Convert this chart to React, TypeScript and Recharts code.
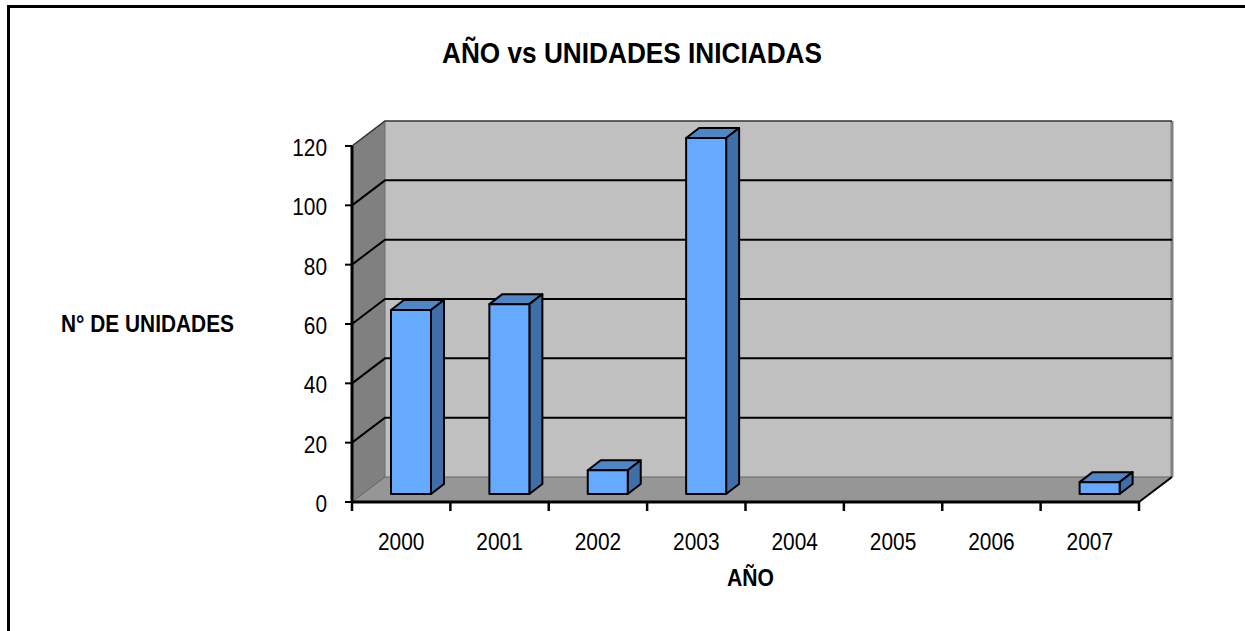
import React from "react";
import { BarChart, Bar, XAxis, YAxis, ReferenceArea, ReferenceLine } from "recharts";

const years = ["2000", "2001", "2002", "2003", "2004", "2005", "2006", "2007"];
const units = [62, 64, 8, 120, 0, 0, 0, 4];
const yTicks = [0, 20, 40, 60, 80, 100, 120];
const gridValues = [20, 40, 60, 80, 100];

const data = years.map((year, i) => ({ year, units: units[i] }));

const W = 1245;
const H = 631;
const DX = 33;
const DY = -25;
const BAR_SHIFT_X = 10;
const BAR_SHIFT_Y = -8;
const BAR_DX = 13;
const BAR_DY = -10;
const FONT = "'Liberation Sans', Arial, sans-serif";

function Walls(props: any) {
  const { x, y, width, height } = props;
  const b = y + height;
  const r = x + width;
  const top = y + DY;
  return (
    <g>
      <polygon points={`${x + DX},${top} ${r + DX},${top} ${r + DX},${b + DY} ${x + DX},${b + DY}`} fill="#c0c0c0" />
      <path d={`M${r + DX},${top} L${r + DX},${b + DY}`} stroke="#808080" strokeWidth={3} fill="none" />
      <polygon points={`${x},${y} ${x + DX},${top} ${x + DX},${b + DY} ${x},${b}`} fill="#808080" stroke="#6e6e6e" strokeWidth={1} />
      <polygon points={`${x},${b} ${x + DX},${b + DY} ${r + DX},${b + DY} ${r},${b}`} fill="#969696" stroke="#666" strokeWidth={1} />
      <path d={`M${x},${y} L${x + DX},${top} L${r + DX},${top}`} fill="none" stroke="#333" strokeWidth={1.5} />
      <path d={`M${r},${b} L${r + DX},${b + DY}`} fill="none" stroke="#000" strokeWidth={2} />
    </g>
  );
}

function GridLine3D(props: any) {
  const { x1, y1, x2, y2 } = props;
  const xa = Math.min(x1, x2);
  const xb = Math.max(x1, x2);
  return (
    <path d={`M${xa},${y1} L${xa + DX},${y1 + DY} L${xb + DX},${y2 + DY}`} fill="none" stroke="#000" strokeWidth={2} />
  );
}

function Box3D(props: any) {
  const { x, y, width, height } = props;
  if (!height || height <= 0) return null;
  const l = x + BAR_SHIFT_X;
  const t = y + BAR_SHIFT_Y;
  const r = l + width;
  const b = t + height;
  return (
    <g stroke="#000" strokeWidth={2} strokeLinejoin="round">
      <polygon points={`${l},${t} ${l + BAR_DX},${t + BAR_DY} ${r + BAR_DX},${t + BAR_DY} ${r},${t}`} fill="#4f86c6" />
      <polygon points={`${r},${t} ${r + BAR_DX},${t + BAR_DY} ${r + BAR_DX},${b + BAR_DY} ${r},${b}`} fill="#3f6ea8" />
      <rect x={l} y={t} width={width} height={height} fill="#66aaff" />
    </g>
  );
}

function YTick(props: any) {
  const { x, y, payload } = props;
  const s = String(payload.value);
  return (
    <text x={x - 16} y={y + 10} textAnchor="end" fontFamily={FONT} fontSize={23} fill="#000" textLength={s.length * 11.6} lengthAdjust="spacingAndGlyphs">
      {s}
    </text>
  );
}

function XTick(props: any) {
  const { x, payload, index, axisTop, band } = props;
  const s = String(payload.value);
  const last = index === years.length - 1;
  return (
    <g>
      <line x1={x - band / 2} x2={x - band / 2} y1={axisTop} y2={axisTop + 9} stroke="#000" strokeWidth={2.5} />
      {last && <line x1={x + band / 2} x2={x + band / 2} y1={axisTop} y2={axisTop + 9} stroke="#000" strokeWidth={2.5} />}
      <text x={x} y={axisTop + 48} textAnchor="middle" fontFamily={FONT} fontSize={23} fill="#000" textLength={s.length * 11.6} lengthAdjust="spacingAndGlyphs">
        {s}
      </text>
    </g>
  );
}

function AbsText({ left, top, children, size, width }: any) {
  return (
    <svg style={{ position: "absolute", left: 0, top: 0, pointerEvents: "none" }} width={W} height={H}>
      <text x={left} y={top} fontFamily={FONT} fontWeight="bold" fontSize={size} fill="#000" textLength={width} lengthAdjust="spacingAndGlyphs">
        {children}
      </text>
    </svg>
  );
}

export default function App() {
  return (
    <div style={{ position: "absolute", left: 0, top: 0, width: W, height: H, background: "#fff", overflow: "hidden" }}>
      <div style={{ position: "absolute", left: 7, top: 5, width: 1400, height: 700, border: "3px solid #000", boxSizing: "content-box" }} />
      <div style={{ position: "absolute", left: 0, top: 0 }}>
        <BarChart
          width={W}
          height={H}
          data={data}
          barSize={40}
          margin={{ top: 146, right: 106, bottom: 0, left: 0 }}
        >
          <ReferenceArea y1={0} y2={120} shape={<Walls />} fill="none" stroke="none" ifOverflow="visible" zIndex={100} />
          {gridValues.map((v) => (
            <ReferenceLine key={v} y={v} shape={<GridLine3D />} ifOverflow="visible" zIndex={150} />
          ))}
          <XAxis
            dataKey="year"
            type="category"
            axisLine={{ stroke: "#000", strokeWidth: 3 }}
            tickLine={false}
            tickSize={8}
            interval={0}
            height={129}
            tick={<XTick axisTop={502} band={787 / 8} />}
          />
          <YAxis
            type="number"
            domain={[0, 120]}
            ticks={yTicks}
            axisLine={{ stroke: "#000", strokeWidth: 3 }}
            tickLine={{ stroke: "#000", strokeWidth: 2 }}
            tickSize={7}
            width={352}
            interval={0}
            tick={<YTick />}
          />
          <Bar dataKey="units" isAnimationActive={false} shape={<Box3D />} />
        </BarChart>
      </div>
      <AbsText left={442} top={63} size={29} width={380}>AÑO vs UNIDADES INICIADAS</AbsText>
      <AbsText left={61} top={332} size={23} width={173}>N° DE UNIDADES</AbsText>
      <AbsText left={727} top={586} size={23} width={47}>AÑO</AbsText>
    </div>
  );
}
